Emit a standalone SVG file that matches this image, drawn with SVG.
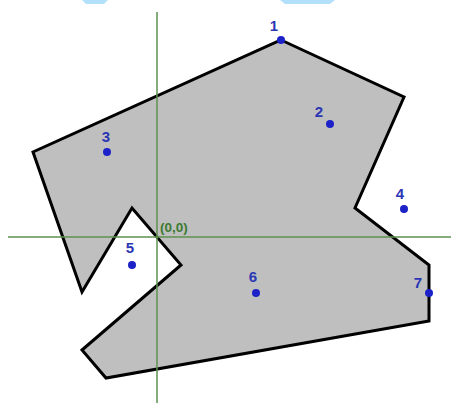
<svg xmlns="http://www.w3.org/2000/svg" width="451" height="403" viewBox="0 0 451 403">
<style>
.axis{stroke:#5e9150;stroke-width:1.5;fill:none}
.poly{fill:#bfbfbf;stroke:#000;stroke-width:3;stroke-linejoin:miter}
.dot{fill:#1c22c8}
.lbl{font-family:"Liberation Sans",Arial,sans-serif;font-size:15px;font-weight:bold;fill:#2a36b4;text-anchor:middle}
.org{font-family:"Liberation Sans",Arial,sans-serif;font-size:13.5px;font-weight:bold;fill:#3c7a32}
.band{fill:#b3e0fa}
</style>
<rect width="451" height="403" fill="#fff"/>
<polygon class="band" points="82,0 108,0 104,4 86,4"/>
<polygon class="band" points="280,0 335,0 330,4 285,4"/>
<g id="shape">
<polygon class="poly" points="281,40 404,97 355,208 429,265 429,321 106,378 82,350 181,265 132,208 82,292 33,152"/>
</g>
<g id="axes">
<line class="axis" x1="157" y1="12" x2="157" y2="403"/>
<line class="axis" x1="8" y1="237" x2="451" y2="237"/>
</g>
<g id="origin"><text class="org" x="160" y="232">(0,0)</text></g>
<g id="p1"><circle class="dot" cx="281" cy="40" r="4"/><text class="lbl" x="274" y="31">1</text></g>
<g id="p2"><circle class="dot" cx="330" cy="124" r="4"/><text class="lbl" x="319" y="117">2</text></g>
<g id="p3"><circle class="dot" cx="107" cy="152" r="4"/><text class="lbl" x="106" y="142">3</text></g>
<g id="p4"><circle class="dot" cx="404" cy="209" r="4"/><text class="lbl" x="400" y="199">4</text></g>
<g id="p5"><circle class="dot" cx="132" cy="265" r="4"/><text class="lbl" x="130" y="253">5</text></g>
<g id="p6"><circle class="dot" cx="256" cy="293" r="4"/><text class="lbl" x="253" y="282">6</text></g>
<g id="p7"><circle class="dot" cx="429" cy="293" r="4"/><text class="lbl" x="418" y="288">7</text></g>
</svg>
